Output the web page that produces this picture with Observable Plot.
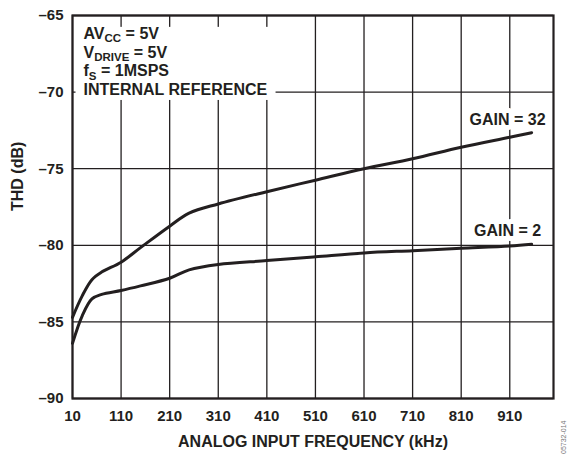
<!DOCTYPE html>
<html>
<head>
<meta charset="utf-8">
<script src="https://cdn.jsdelivr.net/npm/d3@7"></script>
<script src="https://cdn.jsdelivr.net/npm/@observablehq/plot@0.6"></script>
<style>
  html, body { margin: 0; padding: 0; background: #fff; }
  #chart svg { display: block; font-family: "Liberation Sans", Arial, sans-serif; }
</style>
</head>
<body>
<div id="chart"></div>
<script>
// ---- data ----
const freq   = [10, 30, 50, 70, 110, 150, 210, 250, 310, 410, 510, 610, 710, 810, 910, 955];
const gain32 = [-84.7, -83.3, -82.25, -81.75, -81.1, -80.15, -78.75, -77.9, -77.3, -76.5, -75.75, -75.0, -74.35, -73.6, -72.95, -72.65];
const gain2  = [-86.4, -84.6, -83.5, -83.2, -82.95, -82.65, -82.15, -81.6, -81.25, -81.0, -80.75, -80.5, -80.35, -80.2, -80.05, -79.93];
const seriesLabels = ["GAIN = 32", "GAIN = 2"];
const xTicks = [10, 110, 210, 310, 410, 510, 610, 710, 810, 910];
const yTicks = [-65, -70, -75, -80, -85, -90];
const notes = ["AV_{CC} = 5V", "V_{DRIVE} = 5V", "f_{S} = 1MSPS", "INTERNAL REFERENCE"];
const xTitle = "ANALOG INPUT FREQUENCY (kHz)";
const yTitle = "THD (dB)";
const figCode = "05732-014";

const ink = "#231f20";
const rows = [];
[gain32, gain2].forEach((vals, s) => vals.forEach((v, i) => rows.push({series: seriesLabels[s], f: freq[i], thd: v, last: i === vals.length - 1})));

const noteMarks = notes.map((t, i) => Plot.text([t], {
  frameAnchor: "top-left", textAnchor: "start", lineAnchor: "top",
  dx: 11, dy: 12 + i * 18.7,
  fontSize: 16, fontWeight: "bold", fill: ink,
  className: "note"
}));

const chart = Plot.plot({
  width: 572, height: 454,
  marginLeft: 72, marginRight: 19, marginTop: 15, marginBottom: 56,
  style: {fontFamily: "'Liberation Sans', Arial, sans-serif", color: ink, background: "white"},
  x: {domain: [10, 1000], label: null},
  y: {domain: [-90, -65], label: null},
  marks: [
    Plot.gridX(xTicks, {stroke: ink, strokeOpacity: 1, strokeWidth: 1.3}),
    Plot.gridY(yTicks, {stroke: ink, strokeOpacity: 1, strokeWidth: 1.3}),
    ...noteMarks,
    Plot.line(rows, {x: "f", y: "thd", z: "series", stroke: ink, strokeWidth: 3, curve: "catmull-rom"}),
    Plot.text(rows.filter(d => d.last), {x: "f", y: "thd", text: "series", dx: -24, dy: -13,
      fontSize: 16, fontWeight: "bold", fill: ink, stroke: "white", strokeWidth: 10}),
    Plot.axisX(xTicks, {tickSize: 0, tickPadding: 12, fontSize: 15, fontWeight: "bold", fill: ink, label: null,
      tickFormat: d => String(d)}),
    Plot.axisY(yTicks, {tickSize: 0, tickPadding: 9, fontSize: 15, fontWeight: "bold", fill: ink, label: null,
      tickFormat: d => (d < 0 ? "\u2013" + Math.abs(d) : String(d))}),
    Plot.text([xTitle], {frameAnchor: "bottom", dy: 43, lineAnchor: "middle", fontSize: 16, fontWeight: "bold", fill: ink}),
    Plot.text([yTitle], {frameAnchor: "left", dx: -55, dy: 4, rotate: -90, lineAnchor: "middle", fontSize: 16, fontWeight: "bold", fill: ink}),
    Plot.text([figCode], {frameAnchor: "bottom-right", dx: 12, dy: 22, rotate: -90, fontSize: 7, fill: "#777"}),
    Plot.frame({stroke: ink, strokeWidth: 2.2})
  ]
});

// subscripts in annotation lines
const noteGroups = d3.select(chart).selectAll("g.note");
noteGroups.selectAll("text").each(function() {
  const el = d3.select(this);
  const raw = el.text();
  el.text(null);
  const parts = raw.split(/(_\{[^}]*\})/).filter(p => p.length);
  let shifted = false;
  parts.forEach(p => {
    if (p.startsWith("_{")) {
      el.append("tspan").attr("dy", 3.5).attr("font-size", 11.5).text(p.slice(2, -1));
      shifted = true;
    } else {
      const t = el.append("tspan").text(p);
      if (shifted) { t.attr("dy", -3.5); shifted = false; }
    }
  });
});

document.getElementById("chart").appendChild(chart);

// white panel behind the annotation block (hides the grid, as in the reference)
const svgBox = chart.getBoundingClientRect();
let x0 = Infinity, y0 = Infinity, x1 = -Infinity, y1 = -Infinity;
noteGroups.selectAll("text").each(function() {
  const b = this.getBoundingClientRect();
  x0 = Math.min(x0, b.left - svgBox.left); y0 = Math.min(y0, b.top - svgBox.top);
  x1 = Math.max(x1, b.right - svgBox.left); y1 = Math.max(y1, b.bottom - svgBox.top);
});
const first = noteGroups.node();
const pad = 8;
d3.select(first.parentNode).insert("rect", () => first)
  .attr("x", x0 - pad).attr("y", y0 + 2).attr("width", x1 - x0 + 2 * pad).attr("height", y1 - y0)
  .attr("fill", "white");
</script>
</body>
</html>
